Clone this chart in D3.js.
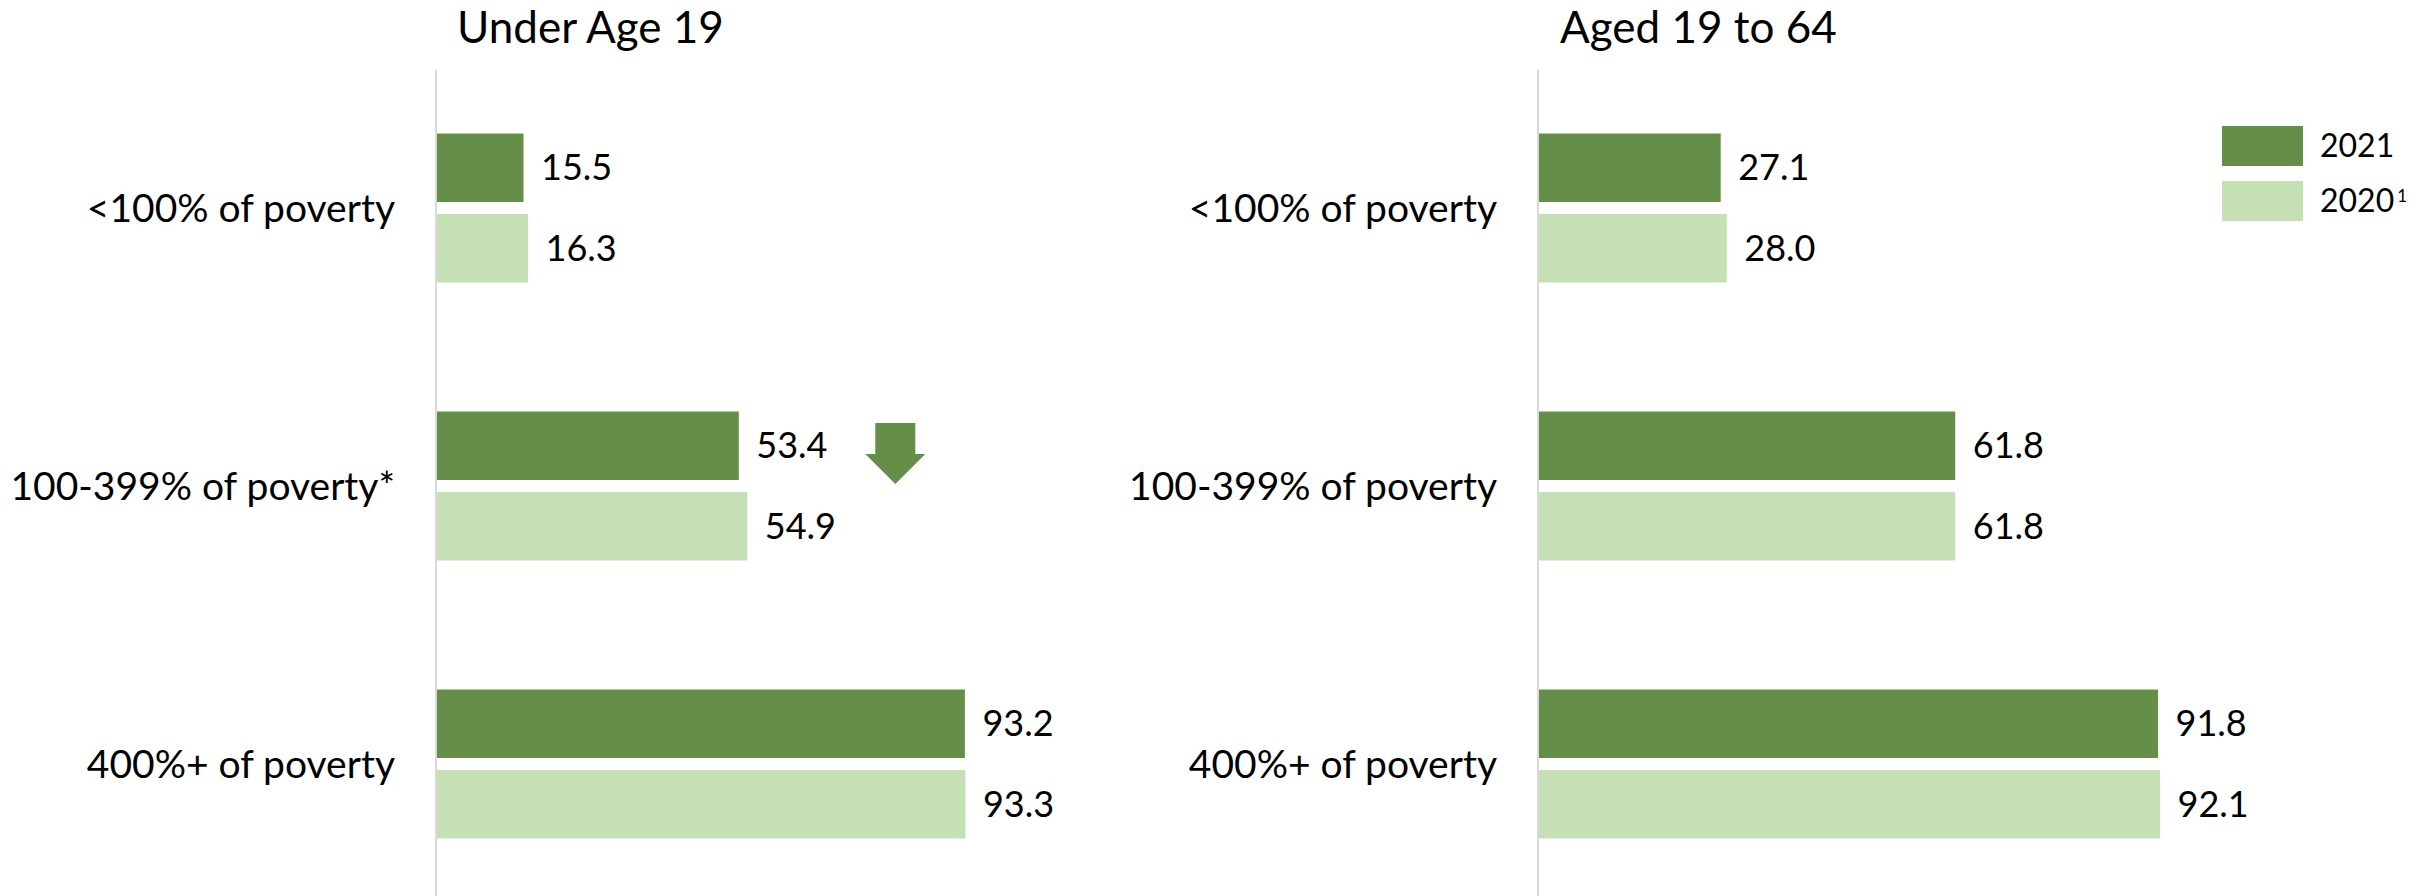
<!DOCTYPE html>
<html>
<head>
<meta charset="utf-8">
<title>Health insurance by poverty level</title>
<style>
body {
  margin: 0;
  background: #fff;
}

svg {
  display: block;
  font-family: Lato, "Open Sans", sans-serif;
}

.axis-line {
  stroke: #d9d9d9;
  stroke-width: 2px;
}
</style>
<script src="https://d3js.org/d3.v7.min.js"></script>
</head>
<body>
<script>
const width = 2432,
  height = 896;

// data
const categories = ['<100% of poverty', '100-399% of poverty', '400%+ of poverty'];
const under19Labels = ['<100% of poverty', '100-399% of poverty*', '400%+ of poverty'];
const aged19to64Labels = ['<100% of poverty', '100-399% of poverty', '400%+ of poverty'];
const series = ['2021', '2020'];
const under19_2021 = [15.5, 53.4, 93.2];
const under19_2020 = [16.3, 54.9, 93.3];
const aged19to64_2021 = [27.1, 61.8, 91.8];
const aged19to64_2020 = [28.0, 61.8, 92.1];
const under19Decrease = [false, true, false];
const aged19to64Decrease = [false, false, false];

const color = d3.scaleOrdinal()
  .domain(series)
  .range(['#658e48', '#c5e0b4']);

let svg = d3.select('body').append('svg')
  .attr('width', width)
  .attr('height', height);

let y = d3.scaleBand()
  .domain(categories)
  .range([69, 903]);

let ySub = d3.scaleBand()
  .domain(series)
  .range([64, 214])
  .paddingInner(0.137);

const panels = [
  {title: 'Under Age 19', titleX: 457, labels: under19Labels,
    v2021: under19_2021, v2020: under19_2020, decrease: under19Decrease,
    x: d3.scaleLinear().domain([0, 100]).range([436, 1004])},
  {title: 'Aged 19 to 64', titleX: 1560, labels: aged19to64Labels,
    v2021: aged19to64_2021, v2020: aged19to64_2020, decrease: aged19to64Decrease,
    x: d3.scaleLinear().domain([0, 100]).range([1538, 2214])}
];

panels.forEach(p => {
  let g = svg.append('g');
  let x = p.x;

  g.append('text')
    .attr('x', p.titleX)
    .attr('y', 43)
    .style('font-size', '44px')
    .style('fill', '#000')
    .text(p.title);

  let rows = categories.map((c, i) => ({
    cat: c,
    label: p.labels[i],
    values: [{key: '2021', value: p.v2021[i]}, {key: '2020', value: p.v2020[i]}],
    decrease: p.decrease[i]
  }));

  let row = g.selectAll('g.row')
    .data(rows)
    .enter().append('g')
      .attr('class', 'row')
      .attr('transform', d => 'translate(0,' + y(d.cat) + ')');

  row.selectAll('rect')
    .data(d => d.values)
    .enter().append('rect')
      .attr('x', x(0))
      .attr('y', d => ySub(d.key))
      .attr('width', d => x(d.value) - x(0))
      .attr('height', ySub.bandwidth())
      .style('fill', d => color(d.key))
      .style('stroke', '#fff')
      .style('stroke-width', 1);

  row.selectAll('text.value')
    .data(d => d.values)
    .enter().append('text')
      .attr('class', 'value')
      .attr('x', d => x(d.value) + 17)
      .attr('y', d => ySub(d.key) + ySub.bandwidth() / 2)
      .attr('dy', '0.35em')
      .style('font-size', '36px')
      .text(d => d3.format('.1f')(d.value));

  row.append('text')
    .attr('x', x(0) - 41)
    .attr('y', y.bandwidth() / 2)
    .attr('dy', '0.35em')
    .style('text-anchor', 'end')
    .style('font-size', '39px')
    .text(d => d.label);

  // down arrow for significant decrease
  row.filter(d => d.decrease)
    .append('path')
      .attr('d', d => {
        let cx = x(d.values[0].value) + 156,
          top = ySub('2021') + 12;
        return 'M' + (cx - 20) + ',' + top + 'H' + (cx + 20) + 'V' + (top + 31) +
          'H' + (cx + 30) + 'L' + cx + ',' + (top + 61) + 'L' + (cx - 30) + ',' + (top + 31) +
          'H' + (cx - 20) + 'Z';
      })
      .style('fill', color('2021'));

  g.append('line')
    .attr('class', 'axis-line')
    .attr('x1', x(0))
    .attr('x2', x(0))
    .attr('y1', 70)
    .attr('y2', height);
});

// legend
let legend = svg.append('g')
  .selectAll('g')
  .data(series)
  .enter().append('g')
    .attr('transform', (d, i) => 'translate(2222,' + (126 + i * 55) + ')');

legend.append('rect')
  .attr('width', 81)
  .attr('height', 40)
  .style('fill', d => color(d));

let legendText = legend.append('text')
  .attr('x', 98)
  .attr('y', 20)
  .attr('dy', '0.35em')
  .style('font-size', '32px')
  .text(d => d);

legendText.filter(d => d === '2020')
  .append('tspan')
    .attr('dx', 3)
    .attr('dy', '-0.6em')
    .style('font-size', '17px')
    .text('1');
</script>
</body>
</html>
